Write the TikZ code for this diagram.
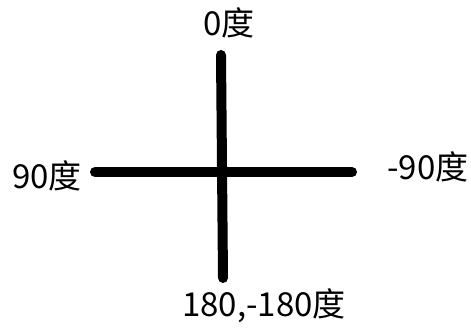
\documentclass[tikz,border=0pt]{standalone}
\usepackage{fontspec}
\setmainfont{Noto Sans CJK SC}
\usetikzlibrary{calc}
\definecolor{Ink}{HTML}{000000}

\begin{document}
\begin{tikzpicture}[x=1pt, y=-1pt,
    axis/.style={draw=Ink, line width=10pt, line cap=round},
    degree/.style={font=\fontsize{33}{35}\selectfont, inner sep=0pt}]
    \useasboundingbox (0,0) rectangle (471,327);
    % ends of the cross
    \coordinate (north) at (221,55);
    \coordinate (south) at (223,278);
    \coordinate (west) at (95,172);
    \coordinate (east) at (352,172);
    \draw[axis] (north) -- (south);
    \draw[axis] (west) -- (east);
    % angle labels
    \node[degree] (zero) at (229,23) {0度};
    \node[degree] (left) at (47,176) {90度};
    \node[degree] (right) at (428,167) {-90度};
    \node[degree] (back) at (264,306) {180,-180度};
\end{tikzpicture}
\end{document}
